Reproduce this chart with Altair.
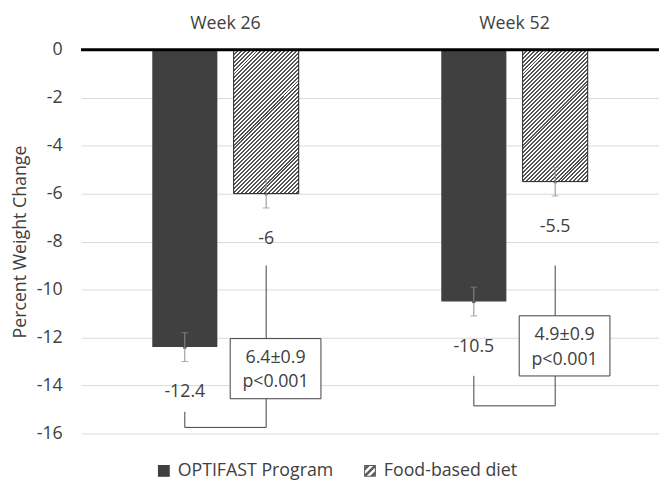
import math
import altair as alt
import pandas as pd

# ---------------- data ----------------
weeks = ["Week 26", "Week 52"]
groups = ["OPTIFAST Program", "Food-based diet"]
optifast_change = [-12.4, -10.5]
food_change = [-6.0, -5.5]
optifast_err = [0.6, 0.6]
food_err = [0.6, 0.6]
diff_labels = ["6.4\u00b10.9", "4.9\u00b10.9"]
p_labels = ["p<0.001", "p<0.001"]
# annotation bracket levels (in percent units)
bracket_left_top = [-15.1, -13.6]
bracket_bottom = [-15.75, -14.85]
bracket_right_top = [-9.0, -9.0]
box_center = [-13.3, -12.35]

# ---------------- tables ----------------
rows = []
for i, w in enumerate(weeks):
    rows.append({"week": w, "group": groups[0], "value": optifast_change[i], "err": optifast_err[i]})
    rows.append({"week": w, "group": groups[1], "value": food_change[i], "err": food_err[i]})
bars_df = pd.DataFrame(rows)

br = []
for i, w in enumerate(weeks):
    br.append({"week": w, "group": groups[0], "value": bracket_left_top[i], "ord": 0})
    br.append({"week": w, "group": groups[0], "value": bracket_bottom[i], "ord": 1})
    br.append({"week": w, "group": groups[1], "value": bracket_bottom[i], "ord": 2})
    br.append({"week": w, "group": groups[1], "value": bracket_right_top[i], "ord": 3})
bracket_df = pd.DataFrame(br)

box_df = pd.DataFrame({
    "week": weeks,
    "group": [groups[1]] * len(weeks),
    "value": box_center,
    "txt": [d + "\n" + p for d, p in zip(diff_labels, p_labels)],
})

# ---------------- styling helpers ----------------
PLOT_W, PLOT_H = 586, 389
Y_MIN, Y_MAX = -16, 0
PX_PER_UNIT = PLOT_H / (Y_MAX - Y_MIN)
BAR_W = 66
TEXT = "#404040"
FONT = "Open Sans"


def hatch(w, h, period=4.0, dark="#555555", light="#ffffff", frac=0.5):
    L = w + h
    n = int(math.ceil(L / period))
    stops = []
    for k in range(n):
        a = min(k * period / L, 1)
        b = min((k * period + period * frac) / L, 1)
        c = min((k + 1) * period / L, 1)
        stops += [
            {"offset": a, "color": dark},
            {"offset": b, "color": dark},
            {"offset": b, "color": light},
            {"offset": c, "color": light},
        ]
    kk = (w + h) / (w * w + h * h)
    return {"gradient": "linear", "x1": 0, "y1": 0, "x2": w * kk, "y2": h * kk, "stops": stops}


# hatched square legend glyph: frame + three diagonal stripes
hatch_square = (
    "M-1,-1L1,-1L1,1L-1,1Z"
    "M-0.82,-0.82L-0.82,0.82L0.82,0.82L0.82,-0.82Z"
    "M0.7,-1L1,-1L1,-0.7L-0.7,1L-1,1L-1,0.7Z"
    "M-0.5,-1L0.1,-1L-1,0.1L-1,-0.5Z"
    "M1,-0.1L1,0.5L0.5,1L-0.1,1Z"
)

X = alt.X(
    "week:N",
    scale=alt.Scale(domain=weeks, paddingInner=0, paddingOuter=0),
    axis=alt.Axis(
        orient="top", title=None, ticks=False, domain=False, grid=False,
        labelAngle=0, labelFontSize=18, labelColor=TEXT, labelFont=FONT,
        labelBaseline="alphabetic", labelPadding=21,
    ),
)
XO = alt.XOffset("group:N", scale=alt.Scale(domain=groups, paddingInner=0.2, paddingOuter=0.876))

Y_SCALE = alt.Scale(domain=[Y_MIN, Y_MAX], nice=False, zero=False)
Y_AXIS = alt.Axis(
    values=list(range(Y_MIN, Y_MAX + 1, 2)), grid=True, gridColor="#d9d9d9",
    domain=False, ticks=False, labelFontSize=18, labelColor=TEXT, labelFont=FONT,
    labelPadding=19, labelExpr="toString(datum.value)",
    titleFontSize=18, titleFontWeight="normal",
    titleColor=TEXT, titleFont=FONT, titleX=-61, titleY=PLOT_H / 2,
    titleAngle=270, titleAlign="center", titleBaseline="middle",
)
YTITLE = "Percent Weight Change"


def Y(field):
    return alt.Y(field, scale=Y_SCALE, axis=Y_AXIS, title=YTITLE)


FILL_SCALE = alt.Scale(domain=groups, range=["#404040", "#5a5a5a"])
LEGEND = alt.Legend(
    orient="none", legendX=75, legendY=418, direction="horizontal",
    title=None, symbolSize=144, labelFontSize=18, labelLimit=400,
    labelColor=TEXT, labelFont=FONT, labelOffset=5, columnPadding=28,
    padding=0, symbolStrokeWidth=0, symbolOpacity=1,
)

base = alt.Chart(bars_df)

# legend carrier: points hidden beneath the bars
legend_layer = base.mark_point(filled=True, opacity=1, size=10).encode(
    x=X, xOffset=XO, y=Y("value:Q"),
    fill=alt.Fill("group:N", scale=FILL_SCALE, legend=LEGEND),
    shape=alt.Shape("group:N", scale=alt.Scale(domain=groups, range=["square", hatch_square]), legend=LEGEND),
)

bars = base.mark_bar().encode(
    x=X, xOffset=XO, y=Y("value:Q"),
    fill=alt.Fill("group:N", scale=FILL_SCALE, legend=LEGEND),
)

food_layers = []
for i, w in enumerate(weeks):
    g = hatch(BAR_W, abs(food_change[i]) * PX_PER_UNIT)
    food_layers.append(
        base.transform_filter(
            (alt.datum.group == groups[1]) & (alt.datum.week == w)
        ).mark_bar(stroke="#262626", strokeWidth=1).encode(
            x=X, xOffset=XO, y=Y("value:Q"), fill=alt.value(g)
        )
    )

err_base = base.transform_calculate(lo="datum.value - datum.err", hi="datum.value + datum.err")
err_rule = err_base.mark_rule(color="#8c8c8c", strokeWidth=1).encode(
    x=X, xOffset=XO, y=Y("lo:Q"), y2="hi:Q"
)
err_lo = err_base.mark_tick(orient="horizontal", size=7, thickness=1, color="#8c8c8c").encode(
    x=X, xOffset=XO, y=Y("lo:Q")
)
err_hi = err_base.mark_tick(orient="horizontal", size=7, thickness=1, color="#8c8c8c").encode(
    x=X, xOffset=XO, y=Y("hi:Q")
)

zero = base.transform_aggregate(count="count()").transform_calculate(value="0").mark_rule(
    color="black", strokeWidth=3
).encode(y=Y("value:Q"))

labels = base.transform_calculate(lbl="toString(datum.value)").mark_text(
    dy=46, fontSize=18, color=TEXT, font=FONT, baseline="middle"
).encode(x=X, xOffset=XO, y=Y("value:Q"), text="lbl:N")

bracket = alt.Chart(bracket_df).mark_line(color="#404040", strokeWidth=1).encode(
    x=X, xOffset=XO, y=Y("value:Q"), order="ord:Q", detail="week:N"
)

box_path = "M-0.793,-0.663L1.207,-0.663L1.207,0.663L-0.793,0.663Z"
box = alt.Chart(box_df).mark_point(
    shape=box_path, size=92 * 92, filled=True, fill="white", stroke="#404040",
    strokeWidth=1, opacity=1,
).encode(x=X, xOffset=XO, y=Y("value:Q"))

box_text = alt.Chart(box_df).mark_text(
    dx=9.5, dy=-11, lineBreak="\n", lineHeight=25, fontSize=18, color=TEXT, font=FONT,
    baseline="middle", align="center",
).encode(x=X, xOffset=XO, y=Y("value:Q"), text="txt:N")

chart = alt.layer(
    legend_layer, bars, *food_layers, err_rule, err_lo, err_hi, zero, labels, bracket, box, box_text
).properties(
    width=PLOT_W, height=PLOT_H,
    autosize=alt.AutoSizeParams(type="none"),
    padding={"left": 74, "top": 39, "right": 0, "bottom": 48},
).configure(font=FONT).configure_view(stroke=None)

chart.save("out.html", embed_options={"renderer": "svg", "actions": False})
